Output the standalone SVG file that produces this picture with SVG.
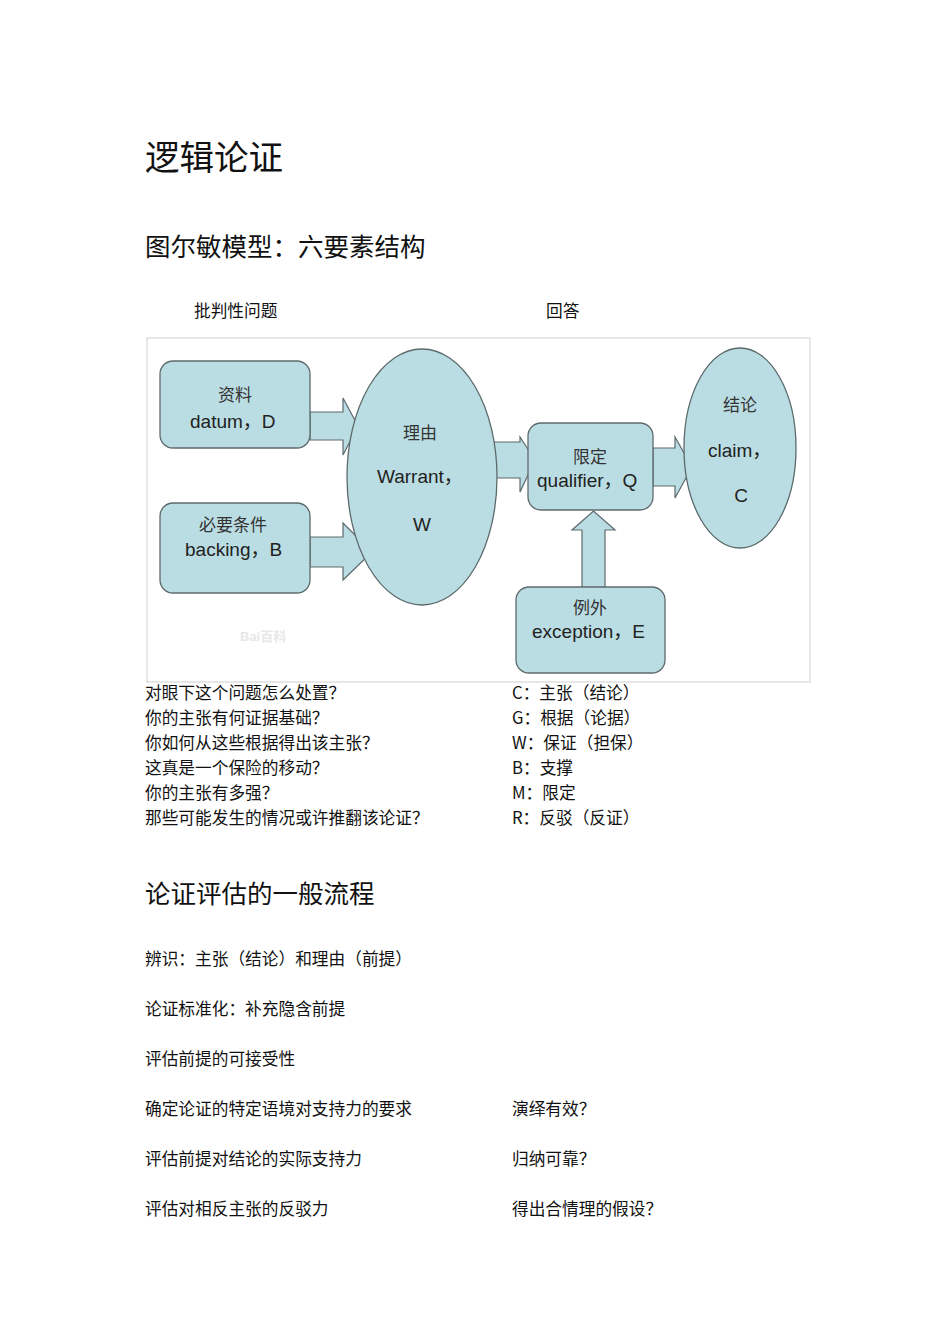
<svg xmlns="http://www.w3.org/2000/svg" width="950" height="1344" viewBox="0 0 950 1344">
<style>
.doc{font-family:"Noto Sans CJK SC","Noto Sans CJK JP",sans-serif;fill:#111;}
.h1{font-size:34.5px;}
.h2{font-size:25.5px;}
.body{font-size:16.7px;}
.node{fill:#badde3;stroke:#5d6a6c;stroke-width:1.3;}
.arrow{fill:#badde3;stroke:#5d6a6c;stroke-width:1.2;stroke-linejoin:miter;}
.cn{font-family:"Noto Sans CJK SC",sans-serif;font-size:17px;fill:#333;text-anchor:middle;}
.en{font-family:"Liberation Sans","Noto Sans CJK SC",sans-serif;font-size:19px;fill:#222;}
.mid{text-anchor:middle;}
</style>
<rect width="950" height="1344" fill="#ffffff"/>

<g id="headings" class="doc">
<text class="h1" x="145" y="170">逻辑论证</text>
<text class="h2" x="145" y="256">图尔敏模型：六要素结构</text>
<text class="body" x="194" y="317">批判性问题</text>
<text class="body" x="546" y="317">回答</text>
</g>

<g id="frame">
<rect x="147" y="338" width="663" height="344" fill="#ffffff" stroke="#cfcfcf" stroke-width="1"/>
<text x="240" y="641" font-family="Liberation Sans, Noto Sans CJK SC, sans-serif" font-size="13" font-weight="bold" fill="#e8e8e8">Bai百科</text>
</g>

<g id="connectors">
<polygon class="arrow" points="310,412 343,412 343,398 358,426 343,455 343,440 310,440"/>
<polygon class="arrow" points="310,537 343,537 343,523 372,552 343,580 343,567 310,567"/>
<polygon class="arrow" points="494,442 520,442 520,437 535,460 520,492 520,478 494,478"/>
<polygon class="arrow" points="653,448 675,448 675,437 692,467 675,498 675,486 653,486"/>
<polygon class="arrow" points="582,589 582,530 572,530 593.5,511 615,530 605,530 605,589"/>
</g>

<g id="datum">
<rect class="node" x="160" y="361" width="150" height="87" rx="13"/>
<text class="cn" x="235" y="401">资料</text>
<text class="en" x="190" y="428">datum，D</text>
</g>

<g id="backing">
<rect class="node" x="160" y="503" width="150" height="90" rx="13"/>
<text class="cn" x="233" y="531">必要条件</text>
<text class="en" x="185" y="556">backing，B</text>
</g>

<g id="warrant">
<ellipse class="node" cx="422" cy="477" rx="75" ry="128"/>
<text class="cn" x="420" y="439">理由</text>
<text class="en" x="377" y="483">Warrant，</text>
<text class="en mid" x="422" y="531">W</text>
</g>

<g id="qualifier">
<rect class="node" x="528" y="423" width="125" height="87" rx="13"/>
<text class="cn" x="590" y="463">限定</text>
<text class="en" x="537" y="487">qualifier，Q</text>
</g>

<g id="claim">
<ellipse class="node" cx="740" cy="448" rx="56" ry="100"/>
<text class="cn" x="740" y="411">结论</text>
<text class="en" x="708" y="457">claim，</text>
<text class="en mid" x="741" y="502">C</text>
</g>

<g id="exception">
<rect class="node" x="516" y="587" width="149" height="86" rx="13"/>
<text class="cn" x="590" y="614">例外</text>
<text class="en" x="532" y="638">exception，E</text>
</g>

<g id="questions" class="doc body">
<text x="145" y="699">对眼下这个问题怎么处置？</text>
<text x="145" y="724">你的主张有何证据基础？</text>
<text x="145" y="749">你如何从这些根据得出该主张？</text>
<text x="145" y="774">这真是一个保险的移动？</text>
<text x="145" y="799">你的主张有多强？</text>
<text x="145" y="824">那些可能发生的情况或许推翻该论证？</text>
<text x="512" y="699">C：主张（结论）</text>
<text x="512" y="724">G：根据（论据）</text>
<text x="512" y="749">W：保证（担保）</text>
<text x="512" y="774">B：支撑</text>
<text x="512" y="799">M：限定</text>
<text x="512" y="824">R：反驳（反证）</text>
</g>

<g id="process" class="doc">
<text class="h2" x="145" y="903">论证评估的一般流程</text>
<text class="body" x="145" y="965">辨识：主张（结论）和理由（前提）</text>
<text class="body" x="145" y="1015">论证标准化：补充隐含前提</text>
<text class="body" x="145" y="1065">评估前提的可接受性</text>
<text class="body" x="145" y="1115">确定论证的特定语境对支持力的要求</text>
<text class="body" x="512" y="1115">演绎有效？</text>
<text class="body" x="145" y="1165">评估前提对结论的实际支持力</text>
<text class="body" x="512" y="1165">归纳可靠？</text>
<text class="body" x="145" y="1215">评估对相反主张的反驳力</text>
<text class="body" x="512" y="1215">得出合情理的假设？</text>
</g>
</svg>
